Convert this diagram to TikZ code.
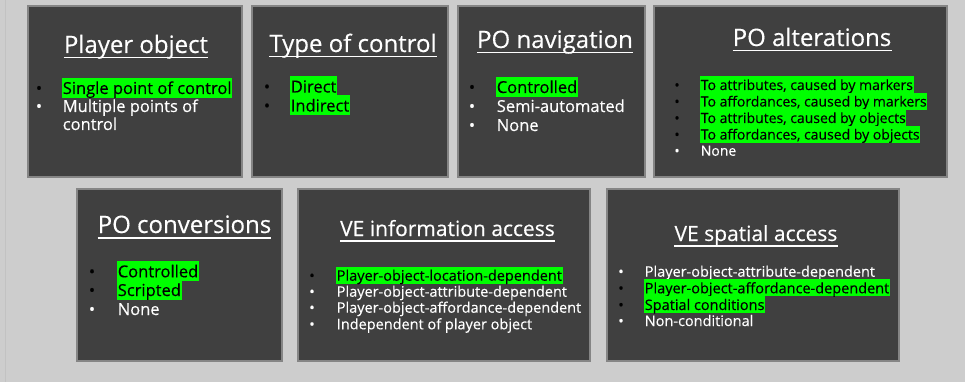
\documentclass[tikz,border=0pt]{standalone}
\usepackage{fontspec}
\setmainfont{Open Sans}[FakeBold=0.35]
\definecolor{bggrey}{HTML}{CDCDCD}
\definecolor{edgegrey}{HTML}{C2C2C2}
\definecolor{panelfill}{HTML}{404040}
\definecolor{panelline}{HTML}{858585}
\definecolor{hlgreen}{HTML}{00FF00}
\begin{document}
\begin{tikzpicture}[x=1pt,y=-1pt,
    panel/.style={draw=panelline,line width=1.3pt,fill=panelfill},
    ttl/.style={text=white,inner sep=0pt,anchor=base,font=\fontsize{24}{28}\selectfont},
    ttls/.style={ttl,font=\fontsize{21}{25}\selectfont},
    uline/.style={white,line width=1.2pt},
    itm/.style={text=white,inner xsep=0.6pt,inner ysep=0pt,anchor=base west},
    hl/.style={itm,fill=hlgreen,text=black},
    dot/.style={text=white,inner sep=0pt,anchor=base},
    dotk/.style={dot,text=black},
    lg/.style={font=\fontsize{16.5}{19}\selectfont,text height=16pt,text depth=4pt},
    sm/.style={font=\fontsize{14}{16}\selectfont,text height=13.5pt,text depth=3.2pt},
    md/.style={font=\fontsize{14.5}{17}\selectfont,text height=14pt,text depth=3pt}]
    \useasboundingbox (0,0) rectangle (965,382);
    \fill[bggrey] (0,0) rectangle (965,382);
    \draw[edgegrey,line width=1pt] (5.5,0) -- (5.5,382);

    % top row
    \draw[panel] (28,6) rectangle (242,177);
    \draw[panel] (252,6) rectangle (448,177);
    \draw[panel] (458,6) rectangle (645,177);
    \draw[panel] (654,6) rectangle (947,177);
    % bottom row
    \draw[panel] (77,189) rectangle (282,361);
    \draw[panel] (298,189) rectangle (590,361);
    \draw[panel] (607,189) rectangle (899,361);

    % titles
    \node[ttl] (tPlayer) at (136,53) {Player object};
    \node[ttl] (tType) at (353,52) {Type of control};
    \node[ttl] (tNav) at (555,48) {PO navigation};
    \node[ttl] (tAlt) at (812,46) {PO alterations};
    \node[ttl] (tConv) at (184.5,233) {PO conversions};
    \node[ttls] (tInfo) at (447.5,236) {VE information access};
    \node[ttls] (tSpat) at (756,241) {VE spatial access};
    \draw[uline] ([yshift=-4.5pt]tPlayer.base west) -- ([yshift=-4.5pt]tPlayer.base east);
    \draw[uline] ([yshift=-4.5pt]tType.base west) -- ([yshift=-4.5pt]tType.base east);
    \draw[uline] ([yshift=-4.5pt]tNav.base west) -- ([yshift=-4.5pt]tNav.base east);
    \draw[uline] ([yshift=-4.5pt]tAlt.base west) -- ([yshift=-4.5pt]tAlt.base east);
    \draw[uline] ([yshift=-5pt]tConv.base west) -- ([yshift=-5pt]tConv.base east);
    \draw[uline] ([yshift=-5pt]tInfo.base west) -- ([yshift=-5pt]tInfo.base east);
    \draw[uline] ([yshift=-5pt]tSpat.base west) -- ([yshift=-5pt]tSpat.base east);

    % Player object
    \node[dotk,lg] (plAdot) at (39,94) {•};
    \node[hl,lg] (plA) at (62,94) {Single point of control};
    \node[dot,lg] (plBdot) at (39,112) {•};
    \node[itm,lg] (plB) at (62,112) {Multiple points of};
    \node[itm,lg] (plB2) at (62,130) {control};

    % Type of control
    \node[dotk,lg] (tyAdot) at (267,92.5) {•};
    \node[hl,lg] (tyA) at (290,92.5) {Direct};
    \node[dotk,lg] (tyBdot) at (267,111.5) {•};
    \node[hl,lg] (tyB) at (290,111.5) {Indirect};

    % PO navigation
    \node[dotk,lg] (nvAdot) at (472,93) {•};
    \node[hl,lg] (nvA) at (496,93) {Controlled};
    \node[dot,lg] (nvBdot) at (472,112) {•};
    \node[itm,lg] (nvB) at (496,112) {Semi-automated};
    \node[dot,lg] (nvCdot) at (472,131) {•};
    \node[itm,lg] (nvC) at (496,131) {None};

    % PO alterations
    \node[dotk,sm] (alAdot) at (677,90) {•};
    \node[hl,sm] (alA) at (700,90) {To attributes, caused by markers};
    \node[dotk,sm] (alBdot) at (677,106.5) {•};
    \node[hl,sm] (alB) at (700,106.5) {To affordances, caused by markers};
    \node[dotk,sm] (alCdot) at (677,123) {•};
    \node[hl,sm] (alC) at (700,123) {To attributes, caused by objects};
    \node[dotk,sm] (alDdot) at (677,139.5) {•};
    \node[hl,sm] (alD) at (700,139.5) {To affordances, caused by objects};
    \node[dot,sm] (alEdot) at (677,155.7) {•};
    \node[itm,sm] (alE) at (700,155.7) {None};

    % PO conversions
    \node[dotk,lg] (cvAdot) at (92,277.3) {•};
    \node[hl,lg] (cvA) at (117,277.3) {Controlled};
    \node[dotk,lg] (cvBdot) at (92,296) {•};
    \node[hl,lg] (cvB) at (117,296) {Scripted};
    \node[dot,lg] (cvCdot) at (92,315) {•};
    \node[itm,lg] (cvC) at (117,315) {None};

    % VE information access
    \node[dotk,md] (inAdot) at (312,280.7) {•};
    \node[hl,md] (inA) at (336,280.7) {Player-object-location-dependent};
    \node[dot,md] (inBdot) at (312,296.7) {•};
    \node[itm,md] (inB) at (336,296.7) {Player-object-attribute-dependent};
    \node[dot,md] (inCdot) at (312,312.7) {•};
    \node[itm,md] (inC) at (336,312.7) {Player-object-affordance-dependent};
    \node[dot,md] (inDdot) at (312,329.3) {•};
    \node[itm,md] (inD) at (336,329.3) {Independent of player object};

    % VE spatial access
    \node[dot,md] (spAdot) at (621,276.7) {•};
    \node[itm,md] (spA) at (644,276.7) {Player-object-attribute-dependent};
    \node[dotk,md] (spBdot) at (621,293.3) {•};
    \node[hl,md] (spB) at (644,293.3) {Player-object-affordance-dependent};
    \node[dotk,md] (spCdot) at (621,310) {•};
    \node[hl,md] (spC) at (644,310) {Spatial conditions};
    \node[dot,md] (spDdot) at (621,326) {•};
    \node[itm,md] (spD) at (644,326) {Non-conditional};
\end{tikzpicture}
\end{document}
